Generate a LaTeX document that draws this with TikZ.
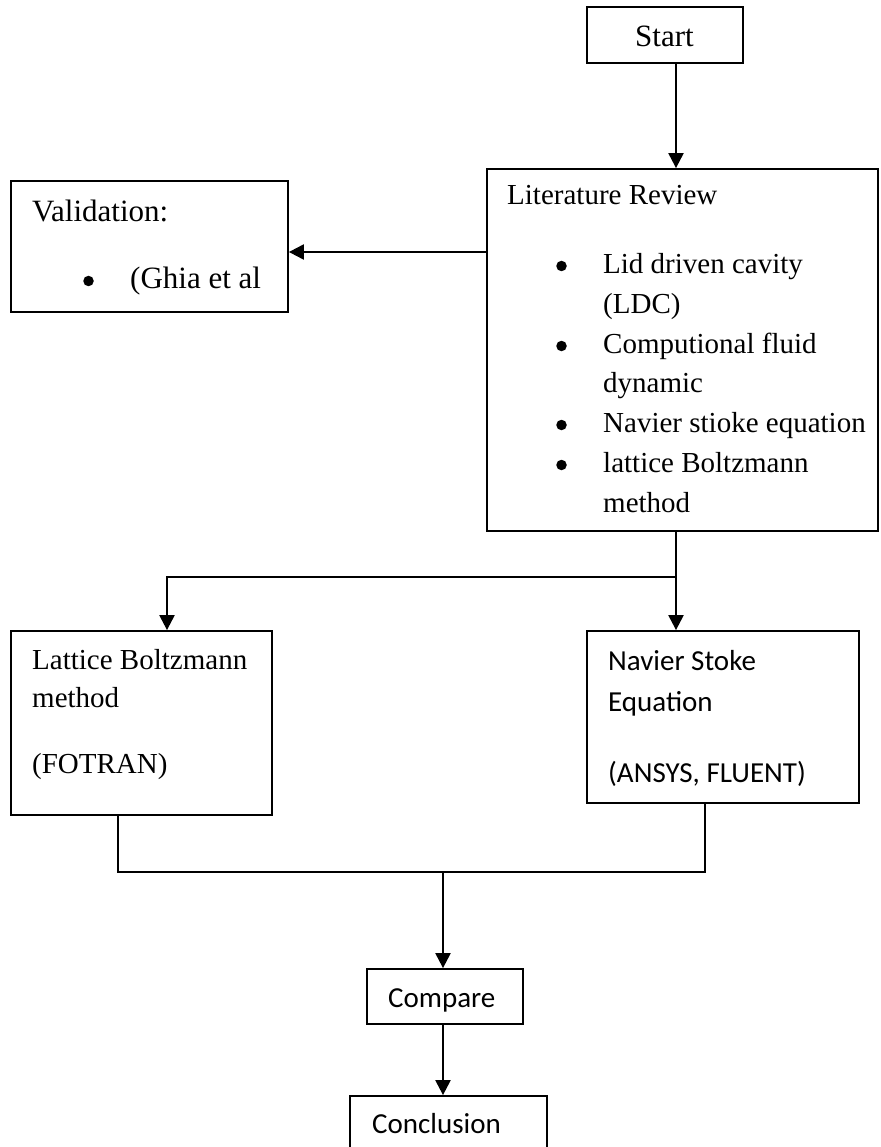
\documentclass[tikz,border=0pt]{standalone}
\usepackage{fontspec}
\setmainfont{Liberation Serif}
\newfontfamily\calibri{Carlito}
\usetikzlibrary{arrows.meta, positioning, calc}
\tikzset{
    block/.style={rectangle, draw, line width=1.8pt, inner sep=0pt},
    boxtext/.style={anchor=base west, inner sep=0pt, font=\fontsize{29}{40}\selectfont},
    bigtext/.style={boxtext, font=\fontsize{31}{40}\selectfont},
    sanstext/.style={boxtext, font=\calibri\fontsize{29}{40}\selectfont},
    dot/.style={circle, fill, inner sep=0pt, minimum size=10.5pt},
    arrow/.style={-{Triangle[length=15pt, width=15pt]}, line width=2.2pt},
    joinline/.style={line width=1.6pt},
}

\begin{document}
\begin{tikzpicture}[x=1pt, y=-1pt]
    \useasboundingbox (0,0) rectangle (880,1147);
    % boxes
    \node[block, minimum width=156pt, minimum height=56pt] (start) at (665,35) {};
    \node[block, minimum width=391pt, minimum height=362pt] (lit) at (682.5,350) {};
    \node[block, minimum width=277pt, minimum height=131pt] (valid) at (149.5,246.5) {};
    \node[block, minimum width=261pt, minimum height=184pt] (lattice) at (141.5,723) {};
    \node[block, minimum width=272pt, minimum height=172pt] (navier) at (723,717) {};
    \node[block, minimum width=156pt, minimum height=55pt] (compare) at (445,996.5) {};
    \node[block, minimum width=197pt, minimum height=64pt] (conclusion) at (448.5,1128) {};
    % texts
    \node[bigtext] (starttext) at (635,47) {Start};
    \node[bigtext] (validtitle) at (32,222) {Validation:};
    \node[dot] (validbul) at (88.5,281) {};
    \node[bigtext] (validitem) at (130,288) {(Ghia et al};
    \node[boxtext] (littitle) at (507,205) {Literature Review};
    \node[dot] (bula) at (561.5,266) {};
    \node[boxtext] (itema) at (603,273) {Lid driven cavity};
    \node[boxtext] (itemaa) at (603,313) {(LDC)};
    \node[dot] (bulb) at (561.5,346) {};
    \node[boxtext] (itemb) at (603,353) {Computional fluid};
    \node[boxtext] (itembb) at (603,392) {dynamic};
    \node[dot] (bulc) at (561.5,425) {};
    \node[boxtext] (itemc) at (603,432) {Navier stioke equation};
    \node[dot] (buld) at (561.5,465) {};
    \node[boxtext] (itemd) at (603,472) {lattice Boltzmann};
    \node[boxtext] (itemdd) at (603,512) {method};
    \node[boxtext] (lbma) at (32,669) {Lattice Boltzmann};
    \node[boxtext] (lbmb) at (32,707) {method};
    \node[boxtext] (lbmc) at (32,773) {(FOTRAN)};
    \node[sanstext] (nsa) at (608,670) {Navier Stoke};
    \node[sanstext] (nsb) at (608,711) {Equation};
    \node[sanstext] (nsc) at (608,782) {(ANSYS, FLUENT)};
    \node[sanstext] (comparetext) at (388,1007) {Compare};
    \node[sanstext] (concltext) at (372,1133) {Conclusion};
    % junction points
    \coordinate (spine) at (676,577);
    \coordinate (split) at (167,577);
    \coordinate (vlink) at (487,252);
    \coordinate (lbot) at (118,872);
    \coordinate (nbot) at (705,872);
    \coordinate (merge) at (443,872);
    % connectors
    \draw[arrow] (start.south -| spine) -- (lit.north -| spine);
    \draw[arrow] (vlink) -- (vlink -| valid.east);
    \draw[arrow] (lit.south -| spine) -- (spine) -- (navier.north -| spine);
    \draw[arrow] (spine) -- (split) -- (lattice.north -| split);
    \draw[joinline] (lattice.south -| lbot) -- (lbot) -- (nbot) -- (navier.south -| nbot);
    \draw[arrow] (merge) -- (compare.north -| merge);
    \draw[arrow] (compare.south -| merge) -- (conclusion.north -| merge);
\end{tikzpicture}
\end{document}
